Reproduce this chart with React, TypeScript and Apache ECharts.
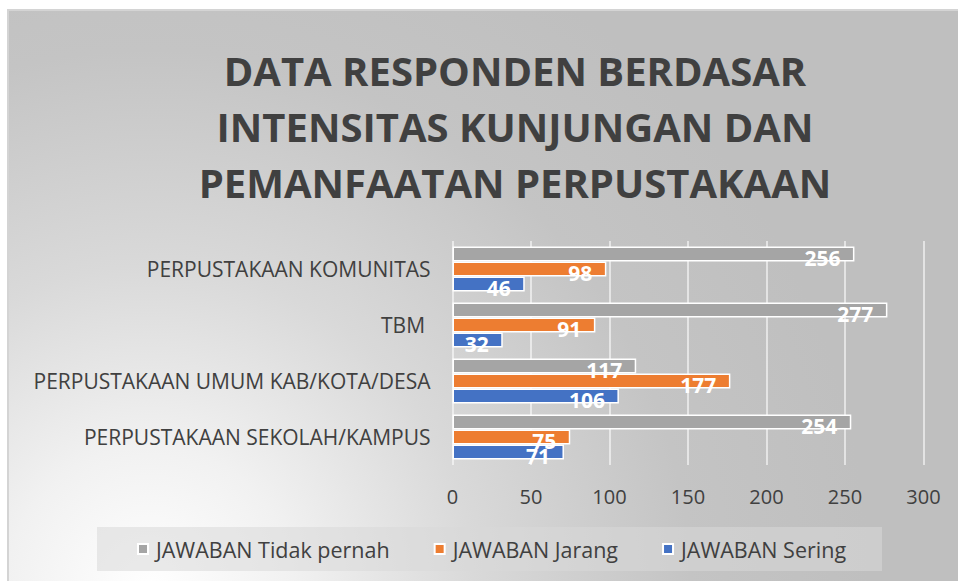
import React, { useEffect, useRef } from "react";
import * as echarts from "echarts";

const categories = [
  "PERPUSTAKAAN SEKOLAH/KAMPUS",
  "PERPUSTAKAAN UMUM KAB/KOTA/DESA",
  "TBM ",
  "PERPUSTAKAAN KOMUNITAS",
];
const sering = [71, 106, 32, 46];
const jarang = [75, 177, 91, 98];
const tidakPernah = [254, 117, 277, 256];
const xTicks = [0, 50, 100, 150, 200, 250, 300];

const FONT = "'Open Sans', 'Noto Sans', sans-serif";
const TXT = "#404040";

export default function App() {
  const ref = useRef<HTMLDivElement>(null);
  useEffect(() => {
    if (!ref.current) return;
    const chart = echarts.init(ref.current, undefined, { renderer: "svg" });
    const bg = new echarts.graphic.RadialGradient(
      150,
      590,
      720,
      [
        { offset: 0, color: "#ffffff" },
        { offset: 0.2, color: "#f1f1f1" },
        { offset: 0.45, color: "#d9d9d9" },
        { offset: 0.75, color: "#c4c4c4" },
        { offset: 1, color: "#bfbfbf" },
      ],
      true
    );
    const label = {
      show: true,
      position: "insideRight" as const,
      distance: 14,
      offset: [0, 4],
      color: "#ffffff",
      fontSize: 21,
      fontWeight: "bold" as const,
      fontFamily: FONT,
    };
    const mk = (name: string, data: number[], color: string) => ({
      name,
      type: "bar" as const,
      data,
      barWidth: 15,
      barGap: "0%",
      itemStyle: { color, borderColor: "#ffffff", borderWidth: 1.5 },
      label,
    });
    chart.setOption({
      animation: false,
      textStyle: { fontFamily: FONT },
      graphic: [
        {
          type: "rect",
          z: -100,
          silent: true,
          shape: { x: 8, y: 10, width: 960, height: 580 },
          style: { fill: bg, stroke: "#d4d4d4", lineWidth: 2 },
        },
      ],
      title: {
        text: "DATA RESPONDEN BERDASAR\nINTENSITAS KUNJUNGAN DAN\nPEMANFAATAN PERPUSTAKAAN",
        left: 510,
        top: 37,
        textAlign: "center",
        textStyle: {
          fontFamily: FONT,
          fontSize: 40,
          fontWeight: "bold",
          color: TXT,
          lineHeight: 56,
        },
      },
      legend: {
        data: ["JAWABAN Tidak pernah", "JAWABAN Jarang", "JAWABAN Sering"],
        left: 97,
        top: 527,
        itemWidth: 10,
        itemHeight: 10,
        itemGap: 44,
        padding: [11, 36, 11, 40],
        backgroundColor: "rgba(217,217,217,0.55)",
        icon: "rect",
        textStyle: { fontFamily: FONT, fontSize: 21.5, color: TXT, padding: [0, 0, 0, 3] },
      },
      grid: { left: 452.5, right: 34.5, top: 241, height: 224, containLabel: false },
      xAxis: {
        type: "value",
        min: 0,
        max: 300,
        interval: 50,
        axisLine: { show: false },
        axisTick: { show: false },
        splitLine: { lineStyle: { color: "rgba(255,255,255,0.75)", width: 1.5 } },
        axisLabel: {
          fontFamily: FONT,
          fontSize: 20,
          color: TXT,
          margin: 21,
          formatter: (v: number) => (xTicks.includes(v) ? String(v) : ""),
        },
      },
      yAxis: {
        type: "category",
        data: categories,
        axisLine: { show: false },
        axisTick: { show: false },
        axisLabel: { fontFamily: FONT, fontSize: 21, color: TXT, margin: 22 },
      },
      series: [
        mk("JAWABAN Tidak pernah", tidakPernah, "#a5a5a5"),
        mk("JAWABAN Jarang", jarang, "#ed7d31"),
        mk("JAWABAN Sering", sering, "#4472c4"),
      ],
    });
    return () => chart.dispose();
  }, []);
  return (
    <div
      ref={ref}
      style={{ position: "absolute", left: 0, top: 0, width: 958, height: 581 }}
    />
  );
}
